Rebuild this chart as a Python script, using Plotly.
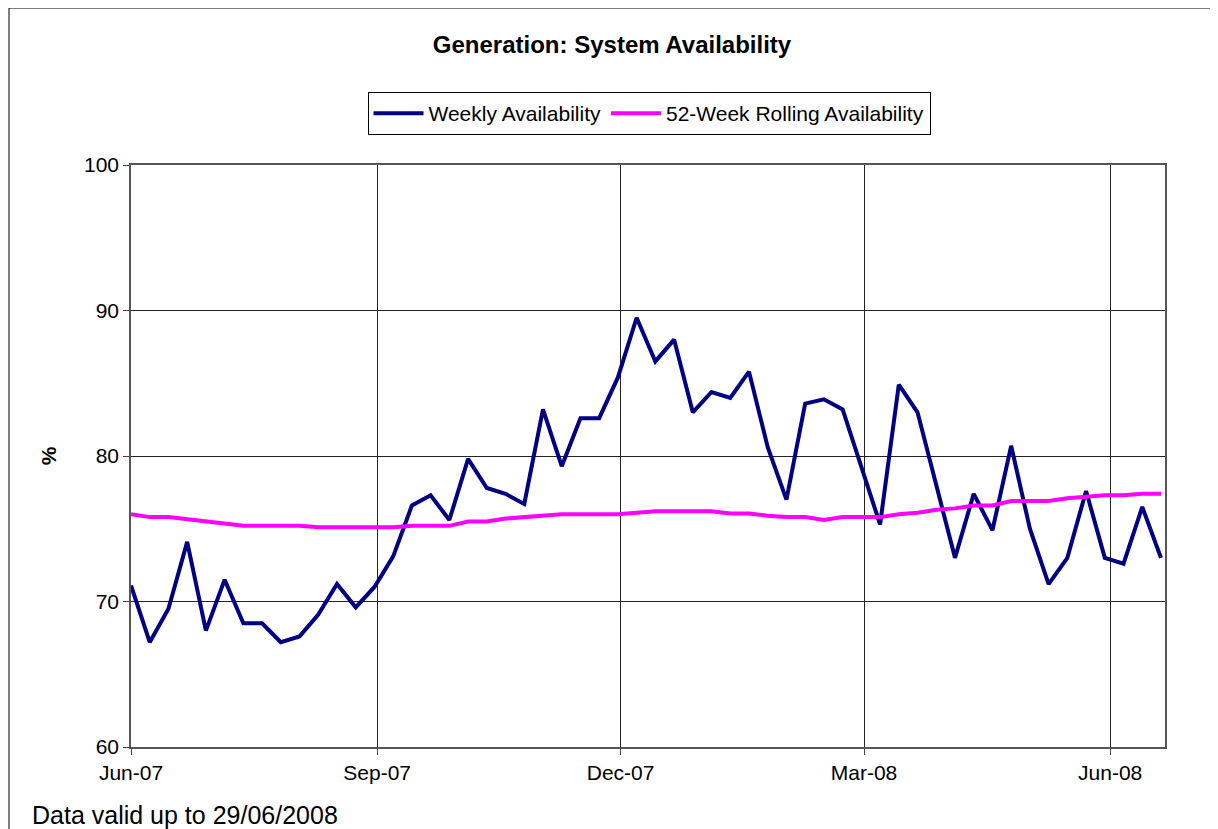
import pandas as pd
import plotly.graph_objects as go

# ---- data ----
start_date = "2007-06-10"
n_weeks = 56
week_dates = pd.date_range(start_date, periods=n_weeks, freq="7D")

weekly_availability = [
    71.1, 67.2, 69.5, 74.1, 68.0, 71.5, 68.5, 68.5, 67.2, 67.6,
    69.1, 71.2, 69.6, 71.0, 73.1, 76.6, 77.3, 75.6, 79.8, 77.8,
    77.4, 76.7, 83.2, 79.3, 82.6, 82.6, 85.4, 89.5, 86.5, 88.0,
    83.0, 84.4, 84.0, 85.8, 80.6, 77.0, 83.6, 83.9, 83.2, 79.3,
    75.3, 84.9, 83.0, 78.0, 73.0, 77.4, 74.9, 80.7, 75.0, 71.2,
    73.0, 77.6, 73.0, 72.6, 76.5, 73.0,
]

rolling_availability = [
    76.0, 75.8, 75.8, 75.65, 75.5, 75.4, 75.2, 75.2, 75.2, 75.2,
    75.1, 75.1, 75.1, 75.1, 75.1, 75.2, 75.2, 75.2, 75.5, 75.5,
    75.7, 75.8, 75.95, 76.0, 76.0, 76.0, 76.0, 76.1, 76.2, 76.2,
    76.2, 76.2, 76.05, 76.05, 75.9, 75.8, 75.8, 75.6, 75.8, 75.8,
    75.8, 76.0, 76.1, 76.3, 76.4, 76.6, 76.6, 76.9, 76.9, 76.9,
    77.1, 77.2, 77.3, 77.3, 77.4, 77.4,
]

tick_dates = ["2007-06-10", "2007-09-10", "2007-12-10", "2008-03-10", "2008-06-10"]
tick_labels = ["Jun-07", "Sep-07", "Dec-07", "Mar-08", "Jun-08"]
y_ticks = [60, 70, 80, 90, 100]

title_text = "Generation: System Availability"
footnote_text = "Data valid up to 29/06/2008"

FONT = "Arial, 'Liberation Sans', sans-serif"

# page body has an 8px margin; figure is sized so the plot lands where the reference has it
FIG_W, FIG_H = 1210, 821
ML, MT, MB = 123, 157, 82
PLOT_W = 1034
PLOT_H = 582
MR = FIG_W - ML - PLOT_W


def px_x(screen_x):
    return (screen_x - 131) / PLOT_W


def px_y(screen_y):
    return (747 - screen_y) / PLOT_H


fig = go.Figure()
fig.add_trace(go.Scatter(
    x=week_dates, y=weekly_availability, mode="lines",
    name="Weekly Availability",
    line=dict(color="#000080", width=4),
))
fig.add_trace(go.Scatter(
    x=week_dates, y=rolling_availability, mode="lines",
    name="52-Week Rolling Availability",
    line=dict(color="#FF00FF", width=4),
))

fig.update_layout(
    width=FIG_W, height=FIG_H,
    margin=dict(l=ML, r=MR, t=MT, b=MB),
    paper_bgcolor="white", plot_bgcolor="white",
    font=dict(family=FONT, size=21, color="black"),
    title=dict(
        text="<b>" + title_text + "</b>",
        x=(612 - 8) / FIG_W, xanchor="center", y=1 - (45 - 8) / FIG_H, yanchor="middle",
        font=dict(family=FONT, size=24, color="black"),
    ),
    showlegend=True,
    legend=dict(
        orientation="h", x=px_x(649), xanchor="center", y=px_y(92), yanchor="top",
        bordercolor="black", borderwidth=1, bgcolor="white",
        font=dict(family=FONT, size=21, color="black"),
        itemwidth=50, tracegroupgap=0,
    ),
    xaxis=dict(
        type="date",
        range=["2007-06-10", "2008-06-30 12:00"],
        tickvals=tick_dates, ticktext=tick_labels,
        showgrid=True, gridcolor="#222222", gridwidth=1,
        ticks="outside", ticklen=6, tickcolor="#444444",
        showline=True, linecolor="#555555", linewidth=1.5, mirror=True,
        zeroline=False,
        tickfont=dict(family=FONT, size=21, color="black"),
    ),
    yaxis=dict(
        range=[60, 100], tickvals=y_ticks,
        showgrid=True, gridcolor="#222222", gridwidth=1,
        ticks="outside", ticklen=6, tickcolor="#444444",
        showline=True, linecolor="#555555", linewidth=1.5, mirror=True,
        zeroline=False,
        tickfont=dict(family=FONT, size=21, color="black"),
        title=dict(text="<b>%</b>", standoff=22,
                   font=dict(family=FONT, size=21, color="black")),
    ),
)

# outer chart border (Excel chart area frame)
fig.add_shape(
    type="rect", xref="paper", yref="paper",
    x0=px_x(9), x1=px_x(1215),
    y0=px_y(845), y1=px_y(8),
    line=dict(color="black", width=1), fillcolor="rgba(0,0,0,0)",
    layer="below",
)

fig.add_annotation(
    text=footnote_text, xref="paper", yref="paper",
    x=px_x(30), y=px_y(815),
    xanchor="left", yanchor="middle", showarrow=False,
    font=dict(family=FONT, size=25, color="black"),
)

fig.write_html("out.html")
